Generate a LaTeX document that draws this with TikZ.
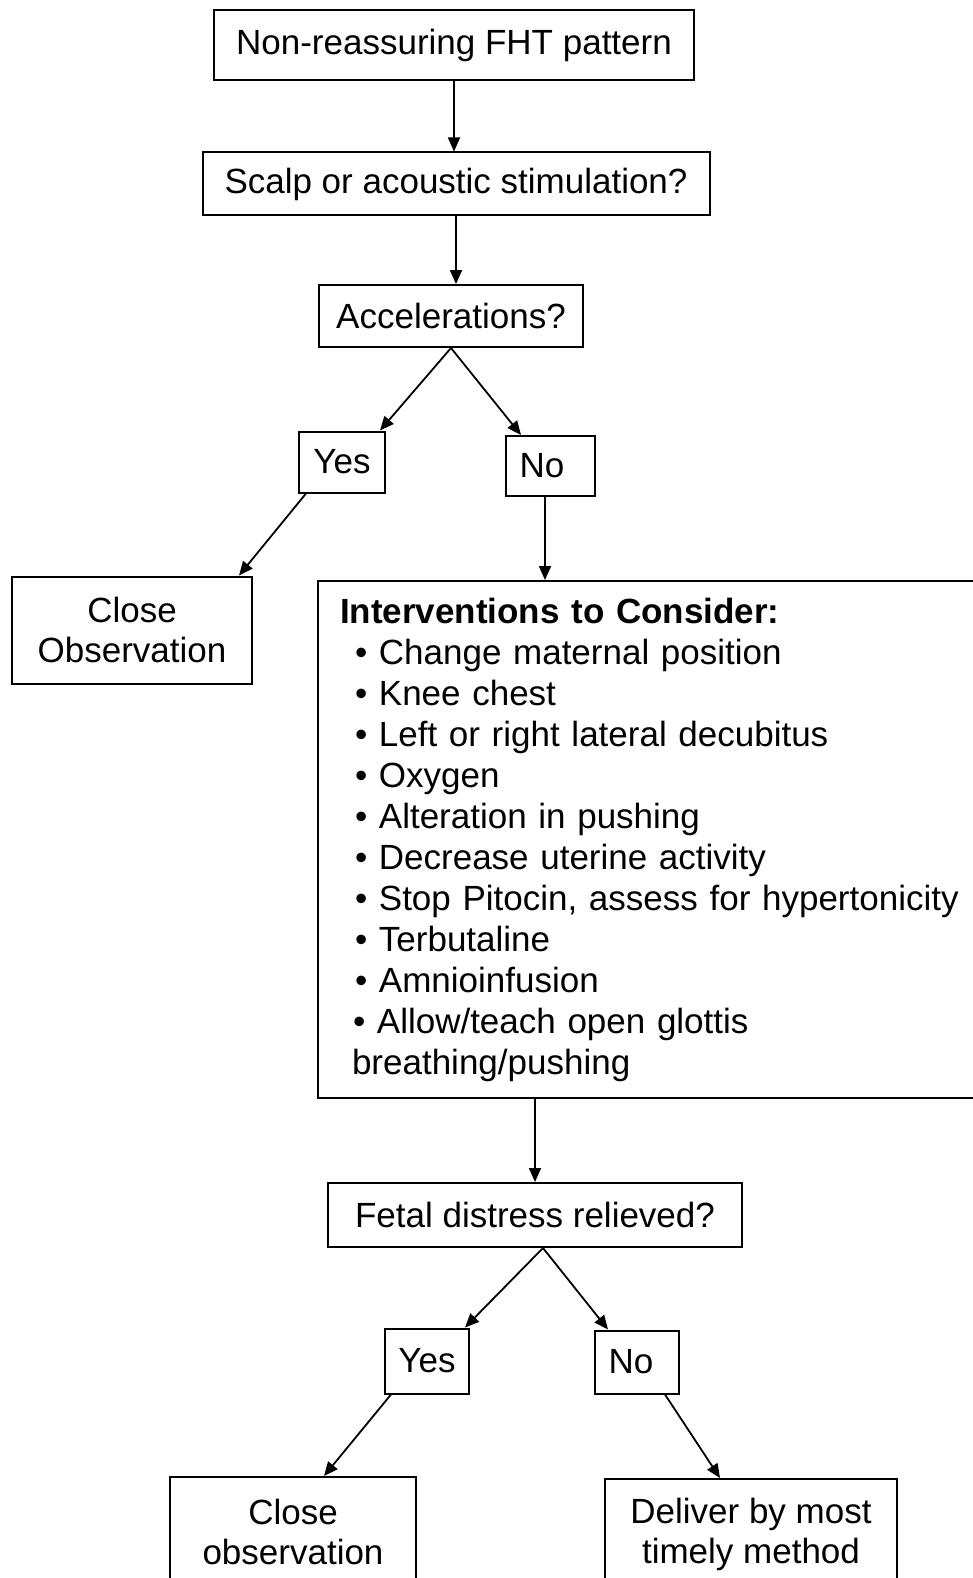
\documentclass[tikz,border=0pt]{standalone}
\usepackage{fontspec}
\setmainfont{Liberation Sans}
\usepackage{tikz}
\usetikzlibrary{calc,arrows.meta}

\begin{document}
\begin{tikzpicture}[x=0.5pt,y=-0.5pt,
    box/.style={draw,line width=1pt,inner sep=0pt,align=center,
      font=\fontsize{17.5}{20}\selectfont},
    arr/.style={line width=0.9pt,-{Triangle[length=7pt,width=6pt]}}]
  \useasboundingbox (0,0) rectangle (973,1578);
  % upper part
  \node[box,minimum width=240pt,minimum height=35pt] (top) at (454,45) {Non-reassuring FHT pattern};
  \node[box,minimum width=253.5pt,minimum height=31.5pt] (stim) at (456,184) {Scalp or acoustic stimulation?};
  \node[box,minimum width=132pt,minimum height=31pt] (accel) at (451,316) {Accelerations?};
  \node[box,minimum width=43pt,minimum height=30.5pt] (yesA) at (342,462) {Yes};
  \node[box,minimum width=44.5pt,minimum height=30pt] (noA) at (550,466) {No\hspace*{8pt}};
  \node[box,minimum width=120pt,minimum height=53.5pt] (closeA) at (132,630) {Close\\Observation};
  % interventions
  \node[box,anchor=north west,minimum width=360pt,minimum height=258.5pt,
        text width=349pt,inner xsep=11pt,align=left,
        font=\fontsize{17.5}{20.5}\selectfont] (interv) at (317,580)
    {\textbf{Interventions to Consider:}\\
     \hspace*{7.5pt}• Change maternal position\\
     \hspace*{7.5pt}• Knee chest\\
     \hspace*{7.5pt}• Left or right lateral decubitus\\
     \hspace*{7.5pt}• Oxygen\\
     \hspace*{7.5pt}• Alteration in pushing\\
     \hspace*{7.5pt}• Decrease uterine activity\\
     \hspace*{7.5pt}• Stop Pitocin, assess for hypertonicity\\
     \hspace*{7.5pt}• Terbutaline\\
     \hspace*{7.5pt}• Amnioinfusion\\
     \hspace*{6.5pt}• Allow/teach open glottis\\
     \hspace*{6pt}breathing/pushing};
  % lower part
  \node[box,minimum width=207pt,minimum height=32pt] (relief) at (535,1215) {Fetal distress relieved?};
  \node[box,minimum width=42pt,minimum height=32.5pt] (yesB) at (427,1361) {Yes};
  \node[box,minimum width=42pt,minimum height=31.5pt] (noB) at (637,1362) {No\hspace*{6pt}};
  \node[box,anchor=north,minimum width=123pt,minimum height=55pt] (closeB) at (293,1476) {Close\\observation};
  \node[box,anchor=north,minimum width=146pt,minimum height=55pt] (deliver) at (751,1478) {Deliver by most\\timely method};
  % connectors
  \draw[arr] (top.south) -- (top.south |- stim.north);
  \draw[arr] (stim.south) -- (stim.south |- accel.north);
  \draw[arr] (accel.south) -- ($(yesA.north)+(38,0)$);
  \draw[arr] (accel.south) -- ($(noA.north)+(-29,0)$);
  \draw[arr] ($(yesA.south west)+(8,0)$) -- ($(closeA.north east)+(-14,0)$);
  \draw[arr] ($(noA.south)+(-5,0)$) -- ($(noA.south |- interv.north)+(-5,0)$);
  \draw[arr] (relief.north |- interv.south) -- (relief.north);
  \draw[arr] ($(relief.south)+(8,0)$) -- ($(yesB.north)+(38,0)$);
  \draw[arr] ($(relief.south)+(8,0)$) -- ($(noB.north)+(-29,0)$);
  \draw[arr] ($(yesB.south west)+(7,0)$) -- ($(closeB.north)+(31,0)$);
  \draw[arr] ($(noB.south east)+(-15,0)$) -- ($(deliver.north)+(-31,0)$);
\end{tikzpicture}
\end{document}
